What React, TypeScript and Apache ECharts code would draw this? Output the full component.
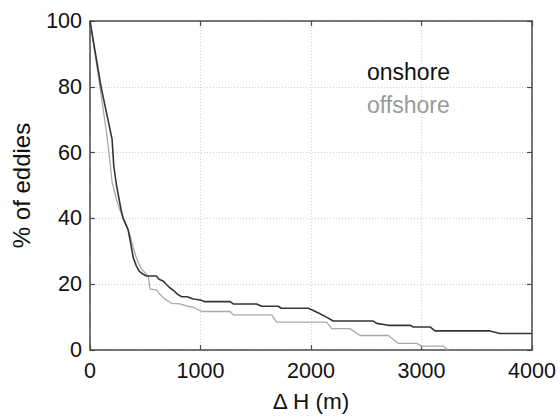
import React, { useEffect, useRef } from "react";
import * as echarts from "echarts";

// ΔH (m) breakpoints and cumulative share of eddies (%) for each group
const onshoreDH = [0, 100, 200, 215, 240, 285, 300, 345, 365, 392, 420, 445, 482, 510, 600, 625, 660, 690, 720, 760, 790, 830, 880, 935, 1000, 1041, 1267, 1297, 1508, 1553, 1704, 1731, 1976, 2021, 2081, 2140, 2201, 2564, 2594, 2700, 2896, 2926, 3077, 3122, 3620, 3710, 4000];
const onshorePct = [100, 80, 64, 56, 50, 42, 40, 36.5, 33, 28, 25.5, 24, 23, 22.5, 22.5, 21.5, 21, 20, 19, 18, 17, 16.2, 16.2, 15.5, 15.2, 14.7, 14.7, 14, 14, 13.3, 13.3, 12.7, 12.7, 12, 11, 10, 8.8, 8.8, 8.1, 7.5, 7.5, 7, 7, 5.8, 5.8, 5, 5];

const offshoreDH = [0, 90, 150, 185, 200, 230, 256, 300, 330, 362, 392, 420, 437, 470, 498, 528, 543, 603, 630, 660, 700, 739, 814, 880, 935, 1011, 1267, 1297, 1644, 1689, 2142, 2187, 2353, 2443, 2700, 2790, 2956, 3001, 3197, 3243];
const offshorePct = [100, 80, 66, 56, 51, 47, 44, 40, 38, 35, 31, 28, 26.5, 24.5, 23.5, 22.3, 18.5, 18.3, 17, 16, 15, 14.2, 14, 13.3, 13, 11.7, 11.7, 10.7, 10.7, 8.5, 8.5, 6.5, 6.5, 4.4, 4.4, 2, 2, 1.2, 1.2, 0];

const xTicks = { min: 0, max: 4000, interval: 1000 };
const yTicks = { min: 0, max: 100, interval: 20 };

const FONT = "'Liberation Sans', Arial, Helvetica, sans-serif";
const FRAME = "#4a4a4a";
const ONSHORE_LINE = "#353535";
const OFFSHORE_LINE = "#a9a9a9";

const pairs = (xs: number[], ys: number[]) => xs.map((x, i) => [x, ys[i]]);
const plain = (v: number) => String(v);

export default function App() {
  const ref = useRef<HTMLDivElement>(null);

  useEffect(() => {
    if (!ref.current) return;
    const chart = echarts.init(ref.current, null, { renderer: "svg" });

    const frameLine = { show: true, onZero: false, lineStyle: { color: FRAME, width: 1.5 } };
    const innerTick = { show: true, inside: true, length: 5, lineStyle: { color: FRAME, width: 1.2 } };
    const dotted = { show: true, lineStyle: { color: "#cfcfcf", width: 1, type: [1, 2] as any } };
    const label = { color: "#111", fontSize: 21.5, fontFamily: FONT, formatter: plain };

    chart.setOption({
      animation: false,
      backgroundColor: "#fff",
      textStyle: { fontFamily: FONT },
      grid: { left: 90, right: 28, top: 21, bottom: 59, containLabel: false },
      legend: {
        orient: "vertical",
        left: 357,
        top: 55,
        icon: "none",
        itemWidth: 0,
        itemHeight: 0,
        itemGap: 10,
        selectedMode: false,
        textStyle: { fontSize: 23, fontFamily: FONT, lineHeight: 23 },
        data: [
          { name: "onshore", textStyle: { color: "#111" } },
          { name: "offshore", textStyle: { color: "#9a9a9a" } },
        ],
      },
      xAxis: [
        {
          type: "value",
          position: "bottom",
          ...xTicks,
          axisLine: frameLine,
          axisTick: innerTick,
          splitLine: dotted,
          axisLabel: { ...label, margin: 10 },
          name: "Δ H (m)",
          nameLocation: "middle",
          nameGap: 40,
          nameTextStyle: { color: "#111", fontSize: 22.5, fontFamily: FONT },
        },
        {
          type: "value",
          position: "top",
          ...xTicks,
          axisLine: frameLine,
          axisTick: innerTick,
          splitLine: { show: false },
          axisLabel: { show: false },
        },
      ],
      yAxis: [
        {
          type: "value",
          position: "left",
          ...yTicks,
          axisLine: frameLine,
          axisTick: innerTick,
          splitLine: dotted,
          axisLabel: { ...label, margin: 8 },
          name: "% of eddies",
          nameLocation: "middle",
          nameRotate: 90,
          nameGap: 57,
          nameTextStyle: { color: "#111", fontSize: 24, fontFamily: FONT },
        },
        {
          type: "value",
          position: "right",
          ...yTicks,
          axisLine: frameLine,
          axisTick: innerTick,
          splitLine: { show: false },
          axisLabel: { show: false },
        },
      ],
      series: [
        {
          name: "onshore",
          type: "line",
          xAxisIndex: 0,
          yAxisIndex: 0,
          data: pairs(onshoreDH, onshorePct),
          showSymbol: false,
          symbol: "none",
          lineStyle: { color: ONSHORE_LINE, width: 1.6 },
          itemStyle: { color: ONSHORE_LINE },
          z: 3,
        },
        {
          name: "offshore",
          type: "line",
          xAxisIndex: 0,
          yAxisIndex: 0,
          data: pairs(offshoreDH, offshorePct),
          showSymbol: false,
          symbol: "none",
          lineStyle: { color: OFFSHORE_LINE, width: 1.3 },
          itemStyle: { color: OFFSHORE_LINE },
          z: 2,
        },
      ],
    });

    return () => chart.dispose();
  }, []);

  return (
    <div
      ref={ref}
      style={{ position: "fixed", left: 0, top: 0, width: 560, height: 418, background: "#fff" }}
    />
  );
}
